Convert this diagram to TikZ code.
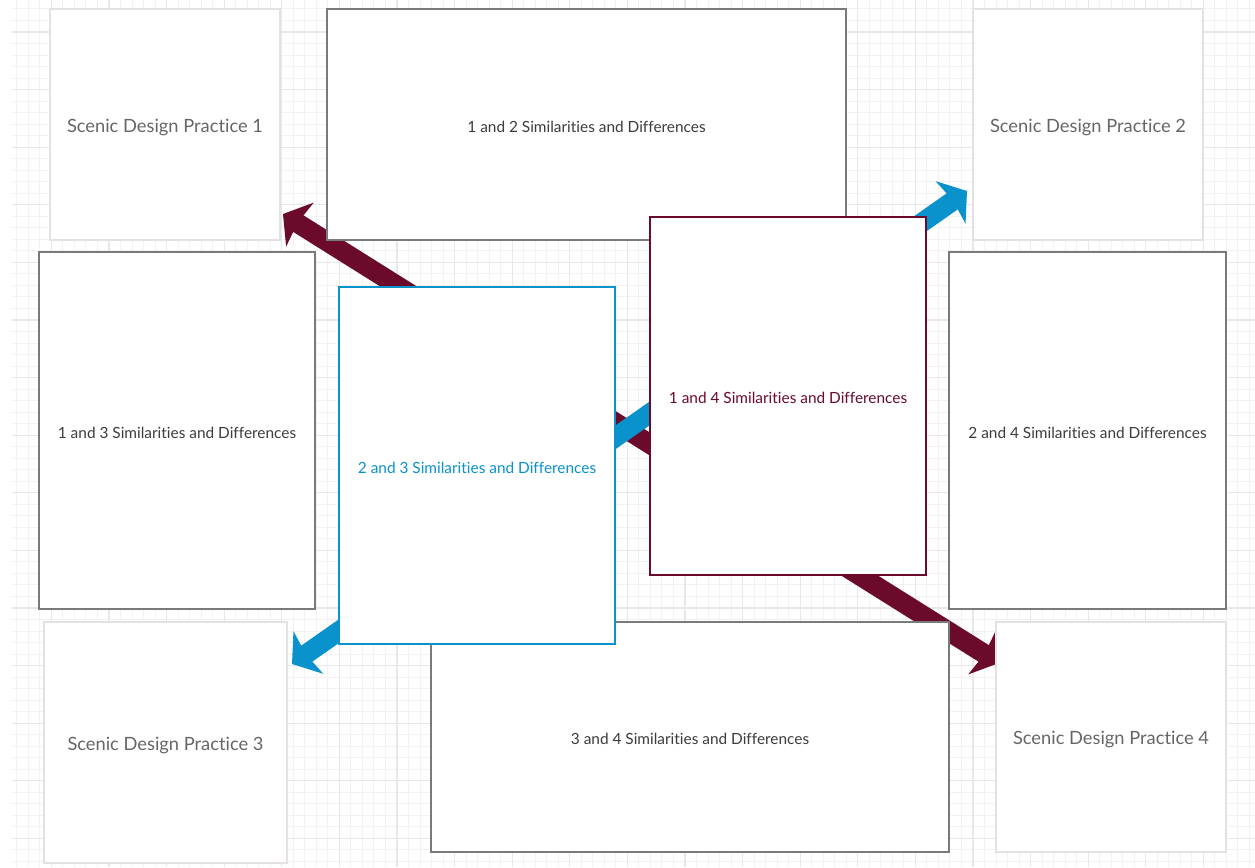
\documentclass[tikz,border=0pt]{standalone}
\usepackage{fontspec}
\setmainfont{Lato}[Ligatures=NoCommon]
\usetikzlibrary{calc}
\definecolor{maroonA}{HTML}{6B0A2A}
\definecolor{blueA}{HTML}{0A92CC}
\definecolor{gridminor}{HTML}{F2F2F2}
\definecolor{gridmajor}{HTML}{E8E8E8}
\definecolor{sdpborder}{HTML}{E4E0E4}
\definecolor{grayborder}{HTML}{7A7A7A}
\definecolor{sdptext}{HTML}{666666}
\definecolor{boxtext}{HTML}{3C3C3C}
\tikzset{
  sdpbox/.style={draw=sdpborder, fill=white, line width=2pt, inner sep=0pt,
    text height=15pt, text depth=0pt,
    text=sdptext, font=\fontsize{18.3}{22}\selectfont},
  cmpbox/.style={draw=grayborder, fill=white, line width=2pt, inner sep=0pt,
    text height=15pt, text depth=0pt,
    text=boxtext, font=\fontsize{15.4}{18}\selectfont},
  bluebox/.style={cmpbox, draw=blueA, text=blueA},
  maroonbox/.style={cmpbox, draw=maroonA, text=maroonA},
  minorline/.style={draw=gridminor, line width=1pt},
  majorline/.style={draw=gridmajor, line width=1.3pt},
}
\newcommand{\headarrow}[3]{%
  % #1 colour, #2 start tip, #3 end tip
  \draw[#1, line width=19.5pt] ($(#2)!15pt!(#3)$) -- ($(#3)!15pt!(#2)$);
  \coordinate (hb1) at ($(#2)!20pt!(#3)$);
  \fill[#1] (#2) -- ($(hb1)!26pt!90:(#2)$) -- ($(#2)!17pt!(#3)$) -- ($(hb1)!26pt!-90:(#2)$) -- cycle;
  \coordinate (hb2) at ($(#3)!20pt!(#2)$);
  \fill[#1] (#3) -- ($(hb2)!26pt!90:(#3)$) -- ($(#3)!17pt!(#2)$) -- ($(hb2)!26pt!-90:(#3)$) -- cycle;
}
\begin{document}
\begin{tikzpicture}[x=1pt,y=-1pt]
\useasboundingbox (0,0) rectangle (1255,867);
\fill[white] (0,0) rectangle (1255,867);
% grid
\begin{scope}
\clip (12,0) rectangle (1255,867);
\foreach \i in {0,...,109} \path[minorline] ({5.3+11.52*\i},0) -- ({5.3+11.52*\i},867);
\foreach \i in {0,...,76} \path[minorline] (0,{-2.56+11.52*\i}) -- (1255,{-2.56+11.52*\i});
\foreach \i in {-1,...,21} \path[majorline] ({51.4+57.6*\i},0) -- ({51.4+57.6*\i},867);
\foreach \i in {-1,...,15} \path[majorline] (0,{32+57.6*\i}) -- (1255,{32+57.6*\i});
\end{scope}
% arrow end points
\coordinate (m1) at (283,214);
\coordinate (m2) at (999,663);
\coordinate (b1) at (292,664);
\coordinate (b2) at (967,191);
\headarrow{maroonA}{m1}{m2}
\headarrow{blueA}{b1}{b2}
% boxes
\node[sdpbox, minimum width=230pt, minimum height=231pt] (sdp1) at (165,124.5) {Scenic Design Practice 1};
\node[sdpbox, minimum width=230pt, minimum height=231pt] (sdp2) at (1088,124.5) {Scenic Design Practice 2};
\node[sdpbox, minimum width=243pt, minimum height=241pt] (sdp3) at (165.5,742.5) {Scenic Design Practice 3};
\node[sdpbox, minimum width=230pt, minimum height=230pt] (sdp4) at (1111,737) {Scenic Design Practice 4};
\node[cmpbox, minimum width=519pt, minimum height=231pt] (c12) at (586.5,124.5) {1 and 2 Similarities and Differences};
\node[cmpbox, minimum width=276pt, minimum height=357pt] (c13) at (177,430.5) {1 and 3 Similarities and Differences};
\node[cmpbox, minimum width=277pt, minimum height=357pt] (c24) at (1087.5,430.5) {2 and 4 Similarities and Differences};
\node[cmpbox, minimum width=518pt, minimum height=230pt] (c34) at (690,737) {3 and 4 Similarities and Differences};
\node[bluebox, minimum width=276pt, minimum height=357pt] (c23) at (477,465.5) {2 and 3 Similarities and Differences};
\node[maroonbox, minimum width=276pt, minimum height=358pt] (c14) at (788,396) {1 and 4 Similarities and Differences};
\end{tikzpicture}
\end{document}
